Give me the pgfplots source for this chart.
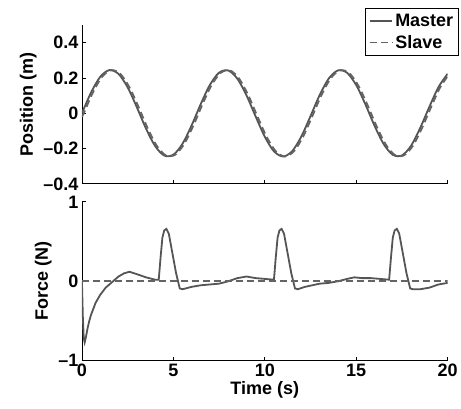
\documentclass[border=0pt]{standalone}
\usepackage{pgfplots}
\pgfplotsset{compat=1.18}
\usepackage{fontspec}
\setmainfont{Liberation Sans}
\definecolor{lineg}{RGB}{85,85,85}
\definecolor{slaveg}{RGB}{100,100,100}

\begin{document}
\begin{tikzpicture}
\pgfplotsset{
  every axis/.append style={
    scale only axis, width=366pt, height=159pt,
    axis lines=left, axis line style={-, line width=0.8pt},
    tick align=inside, major tick length=4pt,
    tick style={black, line width=0.8pt},
    xmin=0, xmax=20, xtick={0,5,10,15,20},
    font=\fontsize{18}{21}\selectfont\bfseries,
    ticklabel style={font=\fontsize{18}{21}\selectfont\bfseries},
    label style={font=\fontsize{18}{21}\selectfont\bfseries},
  },
  mast/.style={lineg, line width=1.8pt,
    legend image code/.code={\draw[lineg, line width=1.8pt] (0cm,0cm) -- (0.8cm,0cm);}},
  slav/.style={slaveg, line width=1.8pt, dash pattern=on 7pt off 4pt,
    legend image code/.code={\draw[slaveg, line width=1.8pt, dash pattern=on 7pt off 4pt] (0cm,0cm) -- (0.8cm,0cm);}},
}
% bounding box matching the reference frame
\path (-82pt,-48pt) rectangle (379pt,361pt);

% Position
\begin{axis}[
  at={(0,177pt)},
  ymin=-0.4, ymax=0.5,
  ytick={-0.4,-0.2,0,0.2,0.4},
  yticklabels={\textendash0.4,\textendash0.2,0,0.2,0.4},
  xticklabels={},
  ylabel={Position (m)},
  legend style={at={(axis description cs:1.03,1.107)}, anchor=north east,
    draw=black, line width=0.8pt, inner xsep=3pt, inner ysep=4pt, row sep=3pt,
    font=\fontsize{18}{21}\selectfont\bfseries},
  legend cell align=left,
]
\addplot[mast, smooth] coordinates {
(0,0)(0.5,0.1175)(1,0.2062)(1.5,0.2444)(2,0.2228)(2.5,0.1466)(3,0.0346)
(3.5,-0.0859)(4,-0.1854)(4.5,-0.2395)(5,-0.2349)(5.5,-0.1728)(6,-0.0685)
(6.5,0.0527)(7,0.1610)(7.5,0.2298)(8,0.2424)(8.5,0.1956)(9,0.1010)
(9.5,-0.0184)(10,-0.1333)(10.5,-0.2155)(11,-0.2450)(11.5,-0.2145)(12,-0.1315)
(12.5,-0.0162)(13,0.1029)(13.5,0.1969)(14,0.2427)(14.5,0.2291)(15,0.1593)
(15.5,0.0506)(16,-0.0705)(16.5,-0.1744)(17,-0.2355)(17.5,-0.2389)(18,-0.1840)
(18.5,-0.0829)(19,0.0367)(19.5,0.1483)(20,0.2237)
};
\addlegendentry{Master}
\addplot[slav, smooth] coordinates {
(0,-0.02)(0.1,0)(0.6,0.1175)(1.1,0.2062)(1.6,0.2444)(2.1,0.2228)(2.6,0.1466)(3.1,0.0346)
(3.6,-0.0859)(4.1,-0.1854)(4.6,-0.2395)(5.1,-0.2349)(5.6,-0.1728)(6.1,-0.0685)
(6.6,0.0527)(7.1,0.1610)(7.6,0.2298)(8.1,0.2424)(8.6,0.1956)(9.1,0.1010)
(9.6,-0.0184)(10.1,-0.1333)(10.6,-0.2155)(11.1,-0.2450)(11.6,-0.2145)(12.1,-0.1315)
(12.6,-0.0162)(13.1,0.1029)(13.6,0.1969)(14.1,0.2427)(14.6,0.2291)(15.1,0.1593)
(15.6,0.0506)(16.1,-0.0705)(16.6,-0.1744)(17.1,-0.2355)(17.6,-0.2389)(18.1,-0.1840)
(18.6,-0.0829)(19.1,0.0367)(19.6,0.1483)(20.1,0.2237)
};
\addlegendentry{Slave}
\end{axis}

% Force
\begin{axis}[
  at={(0,0)},
  ymin=-1, ymax=1,
  ytick={-1,0,1},
  yticklabels={\textendash1,0,1},
  xticklabels={0,5,10,15,20},
  xlabel={Time (s)},
  ylabel={Force (N)},
  xlabel style={yshift=2pt},
]
\addplot[mast] coordinates {
(0,0)(0.05,-0.45)(0.1,-0.72)(0.15,-0.77)(0.22,-0.7)(0.3,-0.6)(0.4,-0.5)(0.5,-0.42)(0.75,-0.27)
(1.0,-0.17)(1.3,-0.08)(1.6,-0.02)(2.0,0.06)(2.3,0.1)(2.6,0.12)(3.0,0.09)
(3.5,0.05)(4.0,0.02)(4.2,0.02)
(4.3,0.3)(4.4,0.55)(4.5,0.64)(4.62,0.66)(4.75,0.6)(4.95,0.35)(5.15,0.1)(5.35,-0.09)(5.5,-0.1)
(6.0,-0.07)(6.5,-0.05)(7.0,-0.04)(7.5,-0.03)(8.0,0.0)(8.5,0.04)(9.0,0.06)(9.5,0.04)(10.0,0.03)(10.5,0.02)
(10.6,0.3)(10.7,0.55)(10.8,0.64)(10.92,0.66)(11.05,0.6)(11.25,0.35)(11.45,0.1)(11.65,-0.09)(11.8,-0.1)
(12.2,-0.07)(12.6,-0.05)(13.0,-0.03)(13.5,-0.02)(14.0,0.0)(14.5,0.03)(14.9,0.05)(15.3,0.04)(15.8,0.04)(16.3,0.03)(16.8,0.02)
(16.9,0.3)(17.0,0.55)(17.1,0.64)(17.22,0.66)(17.35,0.6)(17.55,0.35)(17.75,0.1)(17.95,-0.09)(18.1,-0.1)
(18.5,-0.1)(19.0,-0.08)(19.5,-0.04)(20,-0.02)
};
\addplot[slav] coordinates {(0,0)(20,0)};
\end{axis}
\end{tikzpicture}
\end{document}
